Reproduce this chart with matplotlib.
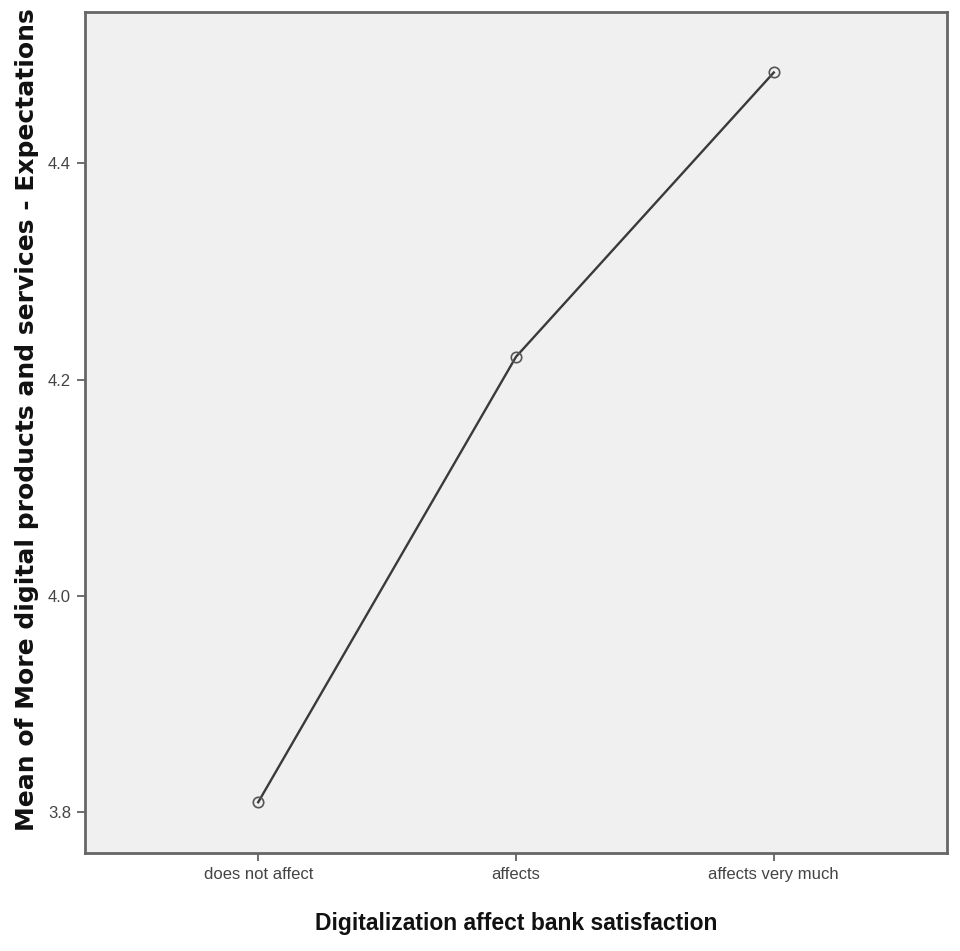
import matplotlib.pyplot as plt

# data
categories = ["does not affect", "affects", "affects very much"]
means = [3.809, 4.221, 4.484]
yticks = [3.8, 4.0, 4.2, 4.4]

fig = plt.figure(figsize=(9.6, 9.51), dpi=100)
ax = fig.add_axes([0.0885, 0.103, 0.898, 0.884])
ax.set_facecolor("#f0f0f0")

x = range(len(categories))
ax.plot(x, means, color="#3a3a3a", lw=1.7, marker="o", markersize=7.5,
        markerfacecolor="none", markeredgecolor="#555555", markeredgewidth=1.2)

ax.set_xlim(-0.672, 2.672)
ax.set_ylim(3.762, 4.5396)
ax.set_xticks(list(x))
ax.set_xticklabels(categories, fontname="Liberation Sans", fontsize=12, color="#444444")
ax.set_yticks(yticks)
ax.set_yticklabels([f"{v:.1f}" for v in yticks], fontname="Liberation Sans",
                   fontsize=12, color="#444444")
ax.tick_params(axis="both", length=6, width=1.2, color="#555555", pad=4)

for s in ax.spines.values():
    s.set_color("#666666")
    s.set_linewidth(2)

ax.set_xlabel("Digitalization affect bank satisfaction", fontname="Liberation Sans",
              fontweight="bold", fontsize=16.5, labelpad=22, color="#111111")
fig.text(27 / 960, 1 - 420 / 951,
         "Mean of More digital products and services - Expectations",
         family="DejaVu Sans", fontweight="bold", fontsize=18, color="#111111",
         rotation=90, ha="center", va="center")

plt.savefig("out.png", dpi=100)
